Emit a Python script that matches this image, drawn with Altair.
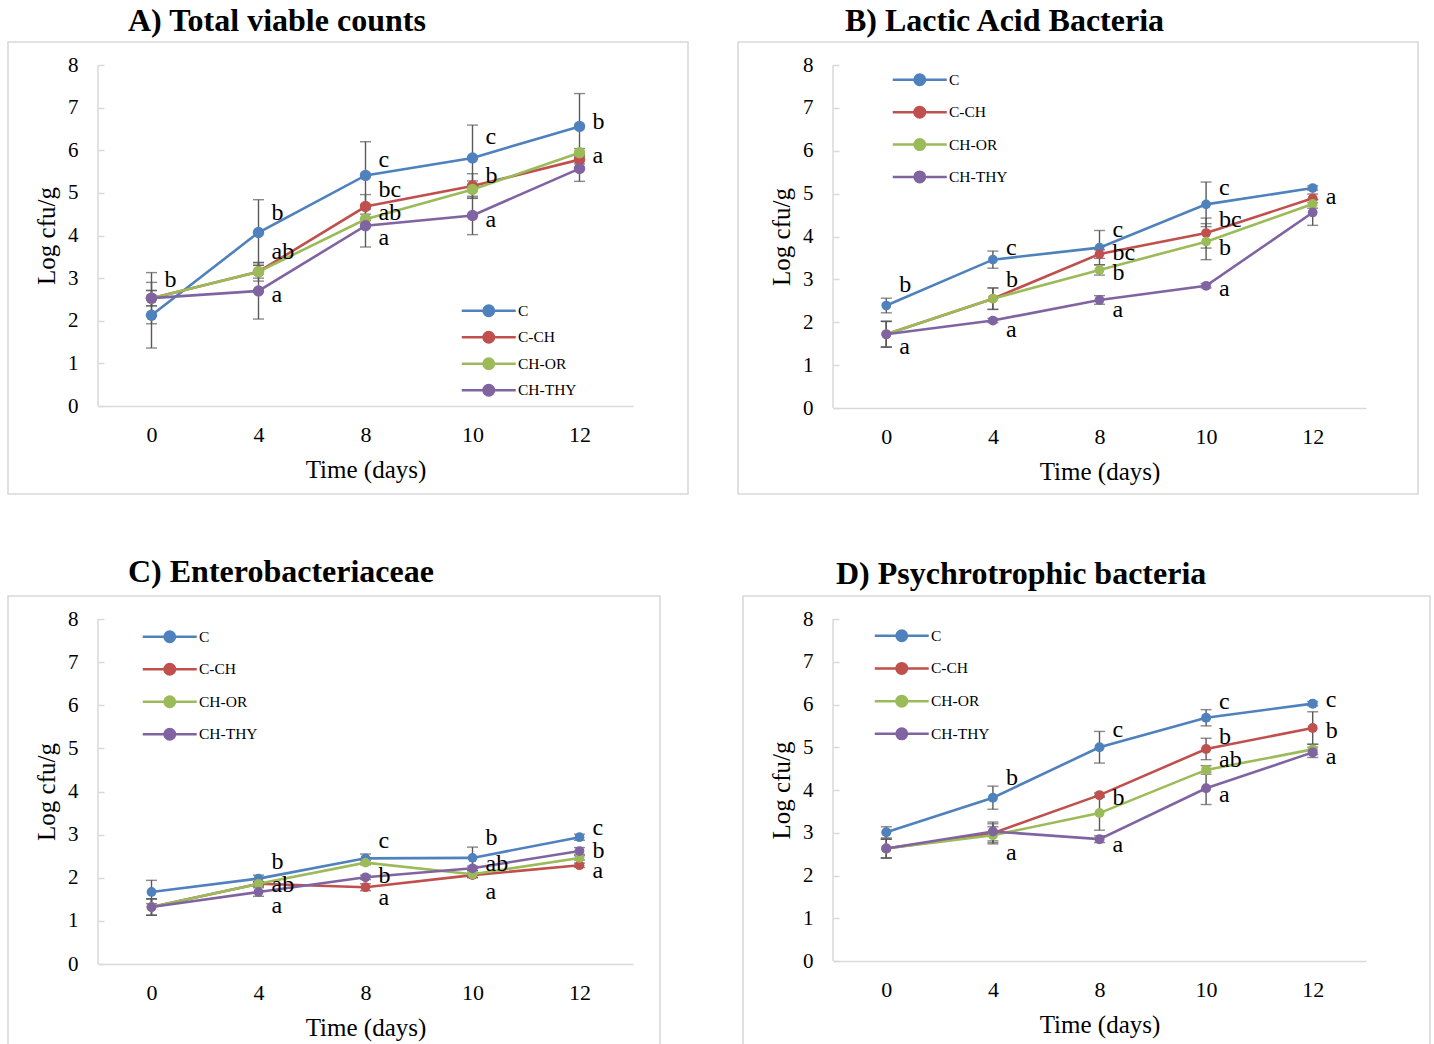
import altair as alt
import pandas as pd

DAYS = ["0", "4", "8", "10", "12"]
SERIES = ["C", "C-CH", "CH-OR", "CH-THY"]
COLORS = ["#4F81BD", "#C0504D", "#9BBB59", "#8064A2"]
FONT = "Liberation Serif"

# A) Total viable counts (mean and standard deviation, log cfu/g)
TVC_MEAN = {
    "C": [2.13, 4.07, 5.41, 5.82, 6.56],
    "C-CH": [2.53, 3.15, 4.68, 5.16, 5.78],
    "CH-OR": [2.53, 3.15, 4.38, 5.08, 5.94],
    "CH-THY": [2.53, 2.70, 4.23, 4.47, 5.57],
}
TVC_SD = {
    "C": [0.77, 0.77, 0.79, 0.77, 0.77],
    "C-CH": [0.60, 0.22, 0.28, 0.29, 0.10],
    "CH-OR": [0.18, 0.15, 0.12, 0.20, 0.10],
    "CH-THY": [0.18, 0.66, 0.50, 0.45, 0.30],
}
TVC_LET_DAY = ["0", "4", "4", "4", "8", "8", "8", "8", "10", "10", "10", "12", "12"]
TVC_LET_POS = [2.96, 4.53, 3.62, 2.61, 5.77, 5.07, 4.53, 3.94, 6.31, 5.40, 4.37, 6.67, 5.87]
TVC_LET_TXT = ["b", "b", "ab", "a", "c", "bc", "ab", "a", "c", "b", "a", "b", "a"]

# B) Lactic acid bacteria
LAB_MEAN = {
    "C": [2.39, 3.46, 3.74, 4.75, 5.13],
    "C-CH": [1.72, 2.55, 3.59, 4.08, 4.89],
    "CH-OR": [1.72, 2.55, 3.22, 3.88, 4.76],
    "CH-THY": [1.72, 2.04, 2.52, 2.85, 4.56],
}
LAB_SD = {
    "C": [0.17, 0.20, 0.40, 0.52, 0.05],
    "C-CH": [0.30, 0.25, 0.10, 0.35, 0.10],
    "CH-OR": [0.30, 0.25, 0.12, 0.42, 0.10],
    "CH-THY": [0.30, 0.05, 0.10, 0.05, 0.30],
}
LAB_LET_DAY = ["0", "0", "4", "4", "4", "8", "8", "8", "8", "10", "10", "10", "10", "12"]
LAB_LET_POS = [2.87, 1.42, 3.73, 2.98, 1.82, 4.15, 3.61, 3.15, 2.28, 5.13, 4.38, 3.73, 2.77, 4.92]
LAB_LET_TXT = ["b", "a", "c", "b", "a", "c", "bc", "b", "a", "c", "bc", "b", "a", "a"]

# C) Enterobacteriaceae
ENT_MEAN = {
    "C": [1.67, 1.98, 2.45, 2.46, 2.94],
    "C-CH": [1.32, 1.86, 1.78, 2.06, 2.29],
    "CH-OR": [1.32, 1.86, 2.35, 2.08, 2.46],
    "CH-THY": [1.32, 1.67, 2.01, 2.22, 2.62],
}
ENT_SD = {
    "C": [0.27, 0.08, 0.10, 0.25, 0.07],
    "C-CH": [0.19, 0.05, 0.08, 0.05, 0.05],
    "CH-OR": [0.19, 0.05, 0.05, 0.08, 0.05],
    "CH-THY": [0.19, 0.10, 0.05, 0.05, 0.08],
}
ENT_LET_DAY = ["4", "4", "4", "8", "8", "8", "10", "10", "10", "12", "12", "12"]
ENT_LET_POS = [2.37, 1.83, 1.35, 2.85, 2.04, 1.53, 2.92, 2.32, 1.67, 3.16, 2.62, 2.16]
ENT_LET_TXT = ["b", "ab", "a", "c", "b", "a", "b", "ab", "a", "c", "b", "a"]

# D) Psychrotrophic bacteria
PSY_MEAN = {
    "C": [3.01, 3.82, 5.00, 5.69, 6.02],
    "C-CH": [2.63, 2.99, 3.88, 4.96, 5.45],
    "CH-OR": [2.63, 2.94, 3.46, 4.47, 4.95],
    "CH-THY": [2.63, 3.03, 2.85, 4.04, 4.88],
}
PSY_SD = {
    "C": [0.13, 0.27, 0.37, 0.19, 0.05],
    "C-CH": [0.22, 0.22, 0.05, 0.25, 0.38],
    "CH-OR": [0.22, 0.20, 0.40, 0.10, 0.12],
    "CH-THY": [0.22, 0.22, 0.08, 0.38, 0.12],
}
PSY_LET_DAY = ["4", "4", "8", "8", "8", "10", "10", "10", "10", "12", "12", "12"]
PSY_LET_POS = [4.28, 2.53, 5.40, 3.81, 2.71, 6.06, 5.24, 4.70, 3.88, 6.11, 5.38, 4.77]
PSY_LET_TXT = ["b", "a", "c", "b", "a", "c", "b", "ab", "a", "c", "b", "a"]

# legend glyph: a 54px line with a dot in the middle (unit = 5px at size 100)
LEGEND_GLYPH = ("M-5.4,0L5.4,0M-1.05,0A1.05,1.05,0,1,0,1.05,0"
                "A1.05,1.05,0,1,0,-1.05,0Z")
GRID_GRAY = "#d9d9d9"
BAR_GRAY = "#595959"


def panel(title, title_dx, title_offset, means, sds, let_day, let_pos, let_txt,
          w, h, leg_left, leg_top, leg_gap, frame, dot_size):
    rows = []
    for s in SERIES:
        for i, d in enumerate(DAYS):
            rows.append({"Treatment": s, "Day": d,
                         "Mean": means[s][i], "SD": sds[s][i]})
    df = pd.DataFrame(rows)
    df["Low"] = df["Mean"] - df["SD"]
    df["High"] = df["Mean"] + df["SD"]
    letters = pd.DataFrame({"Day": let_day, "Pos": let_pos, "Label": let_txt})

    x_axis = alt.Axis(labelAngle=0, domainColor=GRID_GRAY, domainWidth=1.5,
                      ticks=False, tickSize=0, labelPadding=18,
                      labelFontSize=22, labelFont=FONT, labelColor="black",
                      titleFontSize=25, titleFont=FONT, titleFontWeight="normal",
                      titleColor="black", titlePadding=12)
    y_axis = alt.Axis(values=list(range(9)), format="d", grid=False,
                      domain=False, offset=-6, tickSize=6, tickColor=GRID_GRAY,
                      tickWidth=1.5, labelPadding=20, labelFontSize=21,
                      labelFont=FONT, labelColor="black", titleFontSize=25,
                      titleFont=FONT, titleFontWeight="normal",
                      titleColor="black", titlePadding=8)
    x = alt.X("Day:N", sort=DAYS, title="Time (days)",
              scale=alt.Scale(type="point", padding=0.5), axis=x_axis)
    yscale = alt.Scale(domain=[0, 8], nice=False)

    def y(field):
        return alt.Y(f"{field}:Q", title="Log cfu/g", scale=yscale, axis=y_axis)

    color = alt.Color(
        "Treatment:N", sort=SERIES,
        scale=alt.Scale(domain=SERIES, range=COLORS),
        legend=alt.Legend(orient="none", legendX=leg_left + 19, legendY=leg_top,
                          title=None, padding=0, symbolType=LEGEND_GLYPH,
                          symbolSize=100, symbolStrokeWidth=2.5,
                          labelFont=FONT, labelFontSize=15.5,
                          labelColor="black", labelOffset=21.5,
                          rowPadding=leg_gap),
    )

    one = pd.DataFrame({"k": [0]})
    fx1, fx2, fy1, fy2 = frame
    frame_box = alt.Chart(one).mark_rect(
        fill="white", fillOpacity=0, stroke=GRID_GRAY, strokeWidth=1.6).encode(
        x=alt.value(fx1), x2=alt.value(fx2), y=alt.value(fy1), y2=alt.value(fy2))
    # left axis line
    y_line = alt.Chart(one).mark_rule(color=GRID_GRAY, strokeWidth=1.5).encode(
        x=alt.value(0), y=alt.value(0), y2=alt.value(h))

    base = alt.Chart(df)
    bars = base.mark_rule(color=BAR_GRAY, strokeWidth=1.4).encode(
        x=x, y=y("Low"), y2="High:Q")
    caps = base.transform_fold(["Low", "High"], as_=["end", "val"]).mark_tick(
        color=BAR_GRAY, size=11, thickness=1.4).encode(x=x, y=y("val"))
    lines = base.mark_line(strokeWidth=2.6).encode(x=x, y=y("Mean"), color=color)
    dots = base.mark_circle(size=dot_size, opacity=1).encode(
        x=x, y=y("Mean"), color=color)
    labels = alt.Chart(letters).mark_text(
        align="left", baseline="middle", dx=13, fontSize=24, font=FONT,
        color="black").encode(x=x, y=y("Pos"), text="Label:N")

    return alt.layer(frame_box, y_line, bars, caps, lines, dots, labels).properties(
        width=w, height=h,
        title=alt.TitleParams(title, anchor="start", dx=title_dx,
                              offset=title_offset, fontSize=32,
                              fontWeight="bold", font=FONT, color="black",
                              frame="group"),
    )


pA = panel("A) Total viable counts", 30, 3, TVC_MEAN, TVC_SD,
           TVC_LET_DAY, TVC_LET_POS, TVC_LET_TXT,
           535, 341, 364, 238, 5.5, (-90, 590, -23, 429), 130)
pB = panel("B) Lactic Acid Bacteria", 12, 3, LAB_MEAN, LAB_SD,
           LAB_LET_DAY, LAB_LET_POS, LAB_LET_TXT,
           533, 343, 60, 7, 11.4, (-95, 585, -23, 429), 95)
pC = panel("C) Enterobacteriaceae", 30, 6, ENT_MEAN, ENT_SD,
           ENT_LET_DAY, ENT_LET_POS, ENT_LET_TXT,
           535, 345, 45, 10, 11.5, (-90, 562, -23, 440), 95)
pD = panel("D) Psychrotrophic bacteria", 3, 4, PSY_MEAN, PSY_SD,
           PSY_LET_DAY, PSY_LET_POS, PSY_LET_TXT,
           533, 342, 42, 9, 11.7, (-90, 597, -23, 440), 100)

chart = alt.concat(
    pA, pB, pC, pD, columns=2,
    spacing={"row": 211, "column": 200}, bounds="flush",
).resolve_scale(color="independent").properties(
    padding={"left": 7, "top": 5, "right": 0, "bottom": 0}, background="white",
).configure_view(stroke=None)

chart.save("out.html", embed_options={"renderer": "svg", "actions": False})
